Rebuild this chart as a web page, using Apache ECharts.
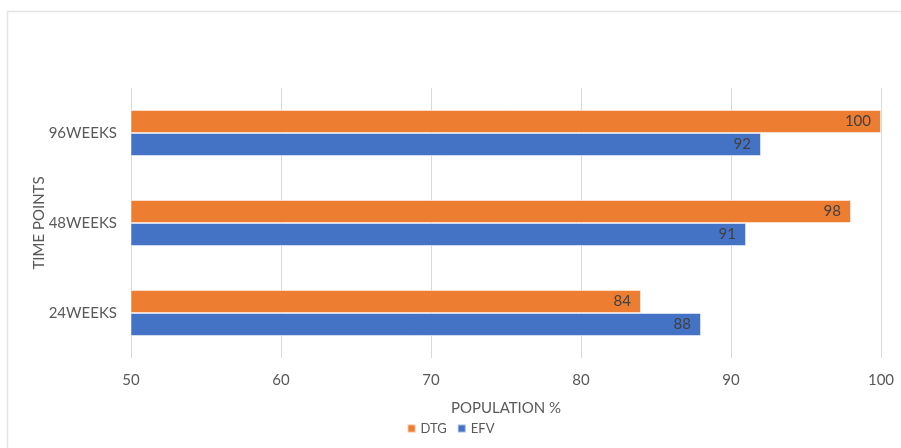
<!DOCTYPE html>
<html><head><meta charset="utf-8">
<script src="https://cdn.jsdelivr.net/npm/echarts@6/dist/echarts.min.js"></script>
<style>html,body{margin:0;padding:0;background:#fff}#c{width:901px;height:448px}</style>
</head><body><div id="c"></div>
<script>
var categories = ['24WEEKS', '48WEEKS', '96WEEKS'];
var dtg = [84, 98, 100];
var efv = [88, 91, 92];
var xTicks = [50, 60, 70, 80, 90, 100];

var chart = echarts.init(document.getElementById('c'), null, {renderer: 'canvas'});
var font = 'Lato, "Open Sans", sans-serif';
var labelCfg = {show: true, position: 'insideRight', color: '#404040', fontSize: 15, fontFamily: font, distance: 10};
chart.setOption({
  animation: false,
  textStyle: {fontFamily: font},
  graphic: [{type: 'rect', shape: {x: 7.5, y: 11.5, width: 920, height: 460}, style: {fill: 'none', stroke: '#e4e4e4', lineWidth: 1.5}, silent: true}],
  grid: {left: 131, right: 20, top: 88, bottom: 90, containLabel: false},
  legend: {
    data: ['DTG', 'EFV'], bottom: 8, left: 'center', itemWidth: 8, itemHeight: 8, itemGap: 10,
    icon: 'rect', textStyle: {color: '#595959', fontSize: 13, fontFamily: font}
  },
  xAxis: {
    type: 'value', min: xTicks[0], max: xTicks[xTicks.length - 1], interval: 10,
    name: 'POPULATION %', nameLocation: 'middle', nameGap: 43,
    nameTextStyle: {color: '#595959', fontSize: 15, fontFamily: font},
    axisLine: {show: false}, axisTick: {show: false},
    axisLabel: {color: '#595959', fontSize: 15, margin: 15, fontFamily: font},
    splitLine: {show: true, lineStyle: {color: '#d9d9d9', width: 1}}
  },
  yAxis: {
    type: 'category', data: categories,
    name: 'TIME POINTS', nameLocation: 'middle', nameGap: 84, nameRotate: 90, nameMoveOverlap: false,
    nameTextStyle: {color: '#595959', fontSize: 15, fontFamily: font},
    axisLine: {show: false}, axisTick: {show: false},
    axisLabel: {color: '#595959', fontSize: 15, margin: 14, fontFamily: font}
  },
  series: [
    {name: 'DTG', type: 'bar', data: dtg, barWidth: 23, barGap: '0%', barCategoryGap: '49%',
     itemStyle: {color: '#ED7D31', borderColor: 'rgba(255,255,255,0.5)', borderWidth: 1}, label: labelCfg},
    {name: 'EFV', type: 'bar', data: efv, barWidth: 23, barGap: '0%', barCategoryGap: '49%',
     itemStyle: {color: '#4472C4', borderColor: 'rgba(255,255,255,0.5)', borderWidth: 1}, label: labelCfg}
  ]
});
</script></body></html>
